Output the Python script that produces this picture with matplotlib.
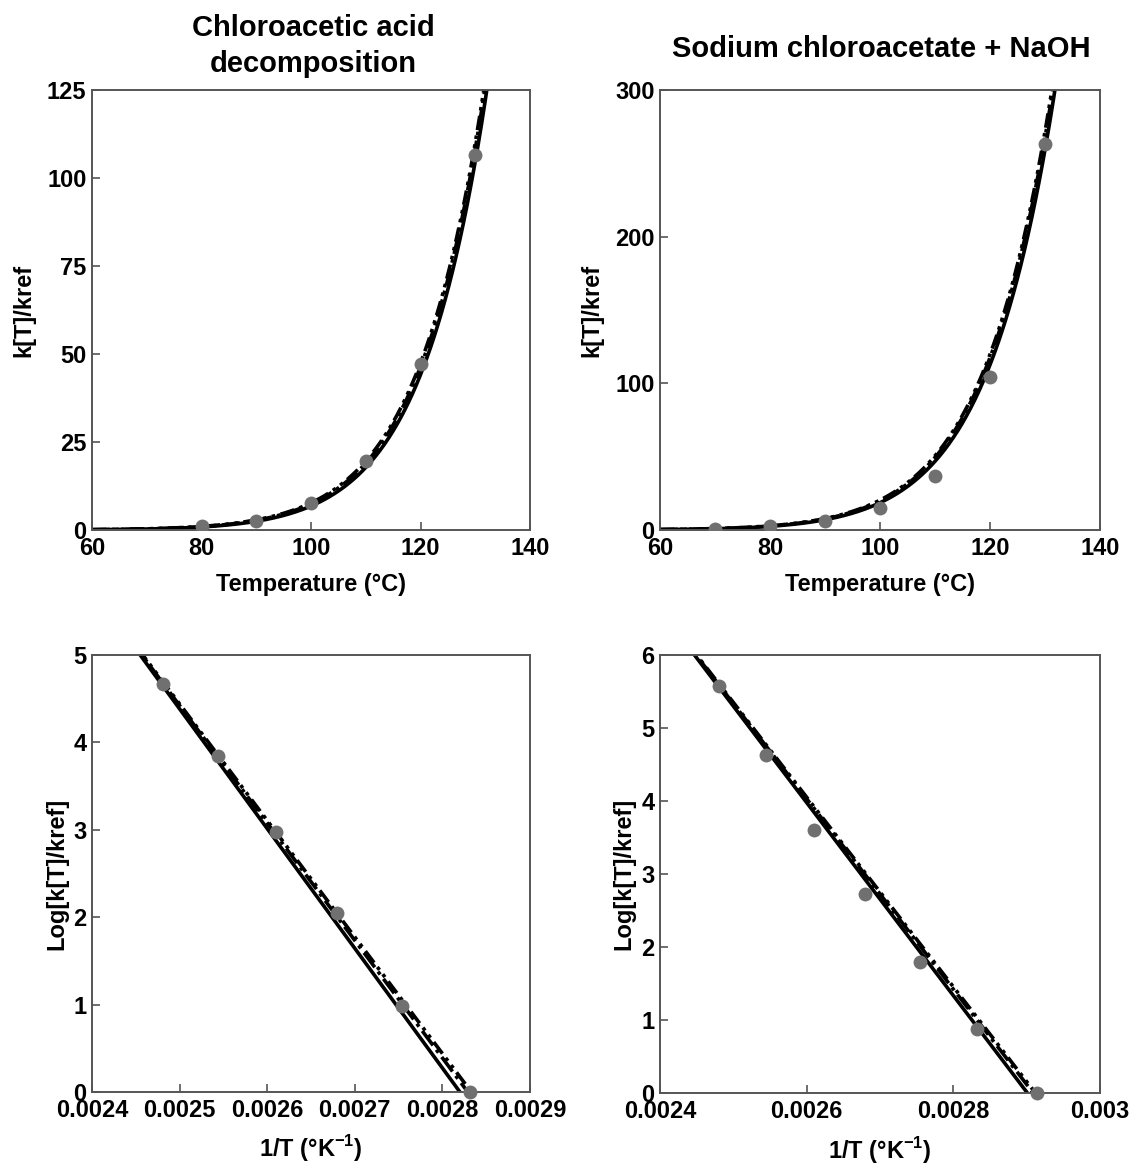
import numpy as np
import matplotlib
matplotlib.use("Agg")
import matplotlib.pyplot as plt
from matplotlib.ticker import FixedLocator, FixedFormatter

# ---------------- data ----------------
# Chloroacetic acid decomposition
ca_T = [80, 90, 100, 110, 120, 130]
ca_k = [1.0, 2.65, 7.75, 19.6, 47.2, 106.5]
ca_invT = [0.002832, 0.002754, 0.002680, 0.002610, 0.002544, 0.002481]
ca_lnk = [0.0, 0.98, 2.05, 2.97, 3.85, 4.67]

# Sodium chloroacetate + NaOH
sc_T = [70, 80, 90, 100, 110, 120, 130]
sc_k = [1.0, 2.4, 6.0, 15.3, 36.6, 104.0, 263.0]
sc_invT = [0.002914, 0.002832, 0.002754, 0.002680, 0.002610, 0.002544, 0.002481]
sc_lnk = [0.0, 0.88, 1.80, 2.73, 3.60, 4.63, 5.57]

# Fitted Arrhenius lines, read as two end points in (1/T, Log[k/kref]) space
ca_fit_solid = ([0.002455, 0.002820], [5.0, 0.0])
ca_fit_dashdot = ([0.002457, 0.002829], [5.0, 0.0])
ca_fit_dashdotdot = ([0.002458, 0.002833], [5.0, 0.0])

sc_fit_solid = ([0.002447, 0.002901], [6.0, 0.0])
sc_fit_dashdot = ([0.002449, 0.002909], [6.0, 0.0])
sc_fit_dashdotdot = ([0.002450, 0.002912], [6.0, 0.0])

# axis ticks
top_xticks = [60, 80, 100, 120, 140]
ca_top_yticks = [0, 25, 50, 75, 100, 125]
sc_top_yticks = [0, 100, 200, 300]
ca_bot_xticks = [0.0024, 0.0025, 0.0026, 0.0027, 0.0028, 0.0029]
ca_bot_xlabels = ["0.0024", "0.0025", "0.0026", "0.0027", "0.0028", "0.0029"]
sc_bot_xticks = [0.0024, 0.0026, 0.0028, 0.0030]
sc_bot_xlabels = ["0.0024", "0.0026", "0.0028", "0.003"]
ca_bot_yticks = [0, 1, 2, 3, 4, 5]
sc_bot_yticks = [0, 1, 2, 3, 4, 5, 6]

# ---------------- style ----------------
plt.rcParams['font.family'] = ['Liberation Sans', 'DejaVu Sans']
plt.rcParams['font.weight'] = 'bold'
plt.rcParams['mathtext.fontset'] = 'custom'
plt.rcParams['mathtext.bf'] = 'Liberation Sans:bold'
plt.rcParams['mathtext.rm'] = 'Liberation Sans:bold'

W, H = 1131, 1164
fig = plt.figure(figsize=(W / 100, H / 100), dpi=100)

def box(l, t, r, b):
    return [l / W, 1 - b / H, (r - l) / W, (b - t) / H]

ax_tl = fig.add_axes(box(92, 90, 530, 530))
ax_tr = fig.add_axes(box(660, 90, 1100, 530))
ax_bl = fig.add_axes(box(92, 655, 530, 1092))
ax_br = fig.add_axes(box(660, 655, 1100, 1093))

LW = 2.6
styles = [
    '-',
    (0, (5, 1.5, 1, 1.5)),
    (0, (4, 1.5, 1, 1.5, 1, 1.5)),
]
PT_COLOR = '#707070'
SPINE = '#555555'
TICKFS = 17

def line_fn(fit):
    (x1, x2), (y1, y2) = fit
    slope = (y2 - y1) / (x2 - x1)
    return lambda x: y1 + slope * (np.asarray(x) - x1)

def style_ax(ax):
    for s in ax.spines.values():
        s.set_color(SPINE)
        s.set_linewidth(1.4)
    ax.tick_params(direction='in', length=6, width=1.2, color=SPINE,
                   labelsize=TICKFS)
    ax.tick_params(axis='x', pad=5)
    ax.tick_params(axis='y', pad=4)
    for lab in ax.get_xticklabels() + ax.get_yticklabels():
        lab.set_fontweight('bold')

def top_panel(ax, fits, T, k, yticks, ymax):
    Tgrid = np.linspace(60, 140, 600)
    inv = 1.0 / (Tgrid + 273.15)
    for fit, ls in zip(fits, styles):
        f = line_fn(fit)
        ax.plot(Tgrid, np.exp(f(inv)), color='black', lw=LW, ls=ls,
                solid_capstyle='butt', dash_capstyle='butt')
    ax.plot(T, k, 'o', color=PT_COLOR, ms=10, zorder=5, mec='none')
    ax.set_xlim(60, 140)
    ax.set_ylim(0, ymax)
    ax.set_xticks(top_xticks)
    ax.set_yticks(yticks)
    style_ax(ax)

def bot_panel(ax, fits, invT, lnk, xt, xl, yt, xlim, ymax):
    xgrid = np.linspace(xlim[0], xlim[1], 300)
    for fit, ls in zip(fits, styles):
        f = line_fn(fit)
        ax.plot(xgrid, f(xgrid), color='black', lw=LW, ls=ls,
                solid_capstyle='butt', dash_capstyle='butt')
    ax.plot(invT, lnk, 'o', color=PT_COLOR, ms=10, zorder=5, mec='none',
            clip_on=False)
    ax.set_xlim(*xlim)
    ax.set_ylim(0, ymax)
    ax.xaxis.set_major_locator(FixedLocator(xt))
    ax.xaxis.set_major_formatter(FixedFormatter(xl))
    ax.set_yticks(yt)
    style_ax(ax)

top_panel(ax_tl, [ca_fit_solid, ca_fit_dashdot, ca_fit_dashdotdot],
          ca_T, ca_k, ca_top_yticks, 125)
top_panel(ax_tr, [sc_fit_solid, sc_fit_dashdot, sc_fit_dashdotdot],
          sc_T, sc_k, sc_top_yticks, 300)
bot_panel(ax_bl, [ca_fit_solid, ca_fit_dashdot, ca_fit_dashdotdot],
          ca_invT, ca_lnk, ca_bot_xticks, ca_bot_xlabels, ca_bot_yticks,
          (0.0024, 0.0029), 5)
bot_panel(ax_br, [sc_fit_solid, sc_fit_dashdot, sc_fit_dashdotdot],
          sc_invT, sc_lnk, sc_bot_xticks, sc_bot_xlabels, sc_bot_yticks,
          (0.0024, 0.0030), 6)

LABFS = 17
for ax in (ax_tl, ax_tr):
    ax.set_xlabel('Temperature (°C)', fontsize=LABFS, fontweight='bold',
                  va='center')
    ax.xaxis.set_label_coords(0.5, -(585 - 530) / 440)
    ax.set_ylabel('k[T]/kref', fontsize=LABFS, fontweight='bold', va='center')
ax_tl.yaxis.set_label_coords((24 - 92) / 438, 0.5)
ax_tr.yaxis.set_label_coords((592 - 660) / 440, 0.5)

for ax in (ax_bl, ax_br):
    ax.set_xlabel(r'1/T (°K$^{\mathbf{-1}}$)', fontsize=LABFS,
                  fontweight='bold', va='center')
    ax.xaxis.set_label_coords(0.5, -(1149 - 1092) / 437)
    ax.set_ylabel('Log[k[T]/kref]', fontsize=LABFS, fontweight='bold',
                  va='center')
ax_bl.yaxis.set_label_coords((57 - 92) / 438, 0.5)
ax_br.yaxis.set_label_coords((624 - 660) / 440, 0.5)

fig.text(313 / W, 1 - 46 / H, 'Chloroacetic acid\ndecomposition', ha='center',
         va='center', fontsize=21, fontweight='bold', linespacing=1.35)
fig.text(881 / W, 1 - 49 / H, 'Sodium chloroacetate + NaOH', ha='center',
         va='center', fontsize=21, fontweight='bold')

fig.savefig('out.png', dpi=100)
